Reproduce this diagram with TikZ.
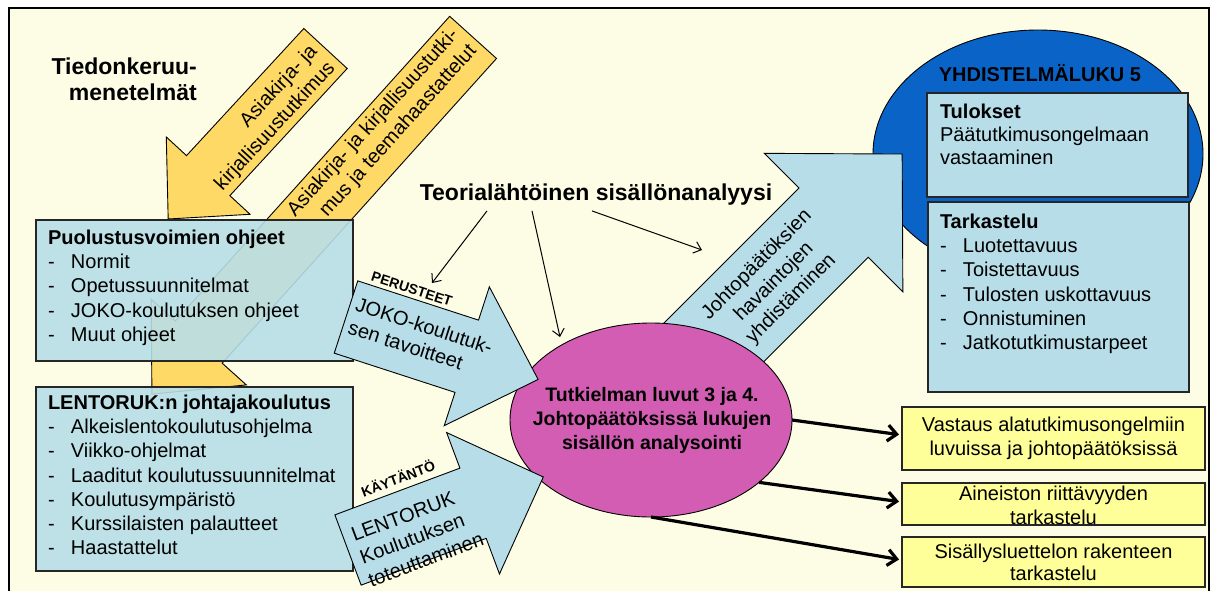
\documentclass[tikz,border=0pt]{standalone}
\usepackage{fontspec}
\setmainfont{Liberation Sans}
\usetikzlibrary{arrows.meta,shapes.geometric}
\definecolor{cream}{HTML}{FDFDE6}
\definecolor{lblue}{HTML}{B7DEE8}
\definecolor{gold}{HTML}{FFD966}
\definecolor{pinkv}{HTML}{D35DB3}
\definecolor{dblue}{HTML}{0A64C8}
\definecolor{lyel}{HTML}{FFFF99}
\newcommand\li[1]{\makebox[23pt][l]{-}#1}
\begin{document}
\begin{tikzpicture}[x=1pt,y=-1pt,
  outl/.style={draw=black, line width=0.9pt, line join=miter},
  ybody/.style={outl, fill=gold},
  bbody/.style={outl, fill=lblue},
  leftbox/.style={draw=black!85, line width=1.2pt, fill=lblue, fill opacity=0.9, anchor=north west, inner sep=0pt, outer sep=0pt},
  rbox/.style={draw=black!85, line width=1.2pt, fill=lblue, anchor=north west, inner sep=0pt, outer sep=0pt},
  ybox/.style={draw=black!85, line width=1.5pt, fill=lyel, anchor=north west, inner sep=0pt, outer sep=0pt},
  body/.style={font=\fontsize{20}{24.2}\selectfont, inner sep=0pt, outer sep=0pt, text=black},
  smallbold/.style={font=\bfseries\fontsize{14}{16}\selectfont, inner sep=0pt},
  thinarr/.style={line width=1pt, -{Straight Barb[length=7pt,width=12pt]}},
  thickarr/.style={line width=3.2pt, shorten >=3pt, -{Straight Barb[length=9pt,width=16pt]}}
]
\fill[white] (0,0) rectangle (1216,590);
\useasboundingbox (0,0) rectangle (1216,590);
\fill[cream] (9,8) rectangle (1209,595);
\draw[line width=1.5pt] (9,595) -- (9,8) -- (1209,8) -- (1209,595);

\node[anchor=north east, inner sep=0pt, align=right, font=\bfseries\fontsize{23}{26}\selectfont] (tk) at (197,58) {Tiedonkeruu-\\menetelmät};

% yellow arrows
\coordinate (ya1) at (325.5,48.5);
\begin{scope}[shift={(ya1)}, rotate=-132.7]
\draw[ybody] (0,-29.5) -- (173,-29.5) -- (173,-57) -- (232,0) -- (173,57) -- (173,29.5) -- (0,29.5) -- cycle;
\node[body, rotate=47.3, anchor=east, align=right] (ya1t) at (8,-4) {Asiakirja- ja\\kirjallisuustutkimus};
\end{scope}
\coordinate (ya2) at (473.1,37.4);
\begin{scope}[shift={(ya2)}, rotate=-132]
\draw[ybody] (0,-31.5) -- (410,-31.5) -- (410,-64) -- (480,0) -- (410,64) -- (410,31.5) -- (0,31.5) -- cycle;
\node[body, rotate=48, anchor=east, align=right] (ya2t) at (8,4.8) {Asiakirja- ja kirjallisuustutki-\\mus ja teemahaastattelut};
\end{scope}

% left boxes
\node[leftbox, minimum width=317pt, minimum height=141pt] (b1) at (36,220) {};
\node[body, anchor=north west, align=left] (b1t) at (48,230) {\textbf{Puolustusvoimien ohjeet}\\\li{Normit}\\\li{Opetussuunnitelmat}\\\li{JOKO-koulutuksen ohjeet}\\\li{Muut ohjeet}};
\node[leftbox, minimum width=317pt, minimum height=184pt] (b2) at (36,387) {};
\node[body, anchor=north west, align=left] (b2t) at (48,395) {\textbf{LENTORUK:n johtajakoulutus}\\\li{Alkeislentokoulutusohjelma}\\\li{Viikko-ohjelmat}\\\li{Laaditut koulutussuunnitelmat}\\\li{Koulutusympäristö}\\\li{Kurssilaisten palautteet}\\\li{Haastattelut}};

% blue ellipse
\node[ellipse, draw=black, line width=0.9pt, fill=dblue, minimum width=330pt, minimum height=248pt, inner sep=0pt, outer sep=0pt] (Y) at (1038,154) {};
\node[font=\bfseries\fontsize{20}{24}\selectfont, inner sep=0pt] (Yt) at (1040,73) {YHDISTELMÄLUKU 5};

% blue arrow
\coordinate (ba) at (697.8,358.4);
\begin{scope}[shift={(ba)}, rotate=45]
\draw[bbody] (0,-49) -- (192,-49) -- (192,-98) -- (289,0) -- (192,98) -- (192,49) -- (0,49) -- cycle;
\node[body, rotate=45, align=center] (bat) at (108,0) {Johtopäätöksien\\havaintojen\\yhdistäminen};
\end{scope}

% right boxes
\node[rbox, minimum width=261pt, minimum height=104pt] (tul) at (927,93) {};
\node[body, font=\fontsize{20}{23}\selectfont, anchor=north west, align=left] (tult) at (940,104) {\textbf{Tulokset}\\Päätutkimusongelmaan\\vastaaminen};
\node[rbox, minimum width=261pt, minimum height=190pt] (tar) at (928,202) {};
\node[body, anchor=north west, align=left] (tart) at (940,214) {\textbf{Tarkastelu}\\\li{Luotettavuus}\\\li{Toistettavuus}\\\li{Tulosten uskottavuus}\\\li{Onnistuminen}\\\li{Jatkotutkimustarpeet}};

% pink ellipse
\node[ellipse, draw=black, line width=0.9pt, fill=pinkv, minimum width=282pt, minimum height=194pt, inner sep=0pt, outer sep=0pt] (E) at (651,420) {};
\node[align=center, font=\bfseries\fontsize{19.5}{24}\selectfont, inner sep=0pt] (Et) at (652,420) {Tutkielman luvut 3 ja 4.\\Johtopäätöksissä lukujen\\sisällön analysointi};

% JOKO arrow
\coordinate (ja) at (346,317);
\begin{scope}[shift={(ja)}, rotate=-18]
\draw[bbody] (0,-38) -- (127,-38) -- (127,-73) -- (202,0) -- (127,73) -- (127,38) -- (0,38) -- cycle;
\node[body, rotate=-18, anchor=west, align=left] (jat) at (6,-4) {JOKO-koulutuk-\\sen tavoitteet};
\node[smallbold, rotate=-18] (per) at (54,-47) {PERUSTEET};
\end{scope}

% LENTORUK arrow
\coordinate (la) at (348,550);
\begin{scope}[shift={(la)}, rotate=20.5]
\draw[bbody] (0,-37.5) -- (133.5,-37.5) -- (133.5,-75.5) -- (208.5,0) -- (133.5,75.5) -- (133.5,37.5) -- (0,37.5) -- cycle;
\node[body, rotate=20.5, anchor=west, align=left] (lat) at (9,12) {LENTORUK\\Koulutuksen\\toteuttaminen};
\node[smallbold, rotate=20.5] (kay) at (72,-50) {KÄYTÄNTÖ};
\end{scope}

% yellow result boxes
\node[ybox, minimum width=303pt, minimum height=63pt] (yA) at (902,407) {};
\node[body, align=center] (yAt) at (yA.center) {Vastaus alatutkimusongelmiin\\luvuissa ja johtopäätöksissä};
\node[ybox, minimum width=303pt, minimum height=42pt] (yB) at (902,483) {};
\node[body, align=center] (yBt) at ([yshift=-1pt]yB.center) {Aineiston riittävyyden\\tarkastelu};
\node[ybox, minimum width=303pt, minimum height=50pt] (yC) at (902,537) {};
\node[body, font=\fontsize{20}{22}\selectfont, align=center] (yCt) at (yC.center) {Sisällysluettelon rakenteen\\tarkastelu};

% theory label and arrows
\node[font=\bfseries\fontsize{23}{26}\selectfont, inner sep=0pt] (T) at (596,195) {Teorialähtöinen sisällönanalyysi};
\coordinate (ta1) at (432,283);
\coordinate (ta2) at (560,337);
\coordinate (ta3) at (702,250);
\draw[thinarr] ([xshift=-109pt,yshift=-5pt]T.south) -- (ta1);
\draw[thinarr] ([xshift=-64pt,yshift=-5pt]T.south) -- (ta2);
\draw[thinarr] ([xshift=-4pt,yshift=-5pt]T.south) -- (ta3);

% result arrows
\draw[thickarr] (E.east) -- ([yshift=3.5pt]yA.west);
\draw[thickarr] (E.-30) -- ([yshift=2pt]yB.west);
\draw[thickarr] (E.south) -- ([yshift=2pt]yC.west);
\end{tikzpicture}
\end{document}
